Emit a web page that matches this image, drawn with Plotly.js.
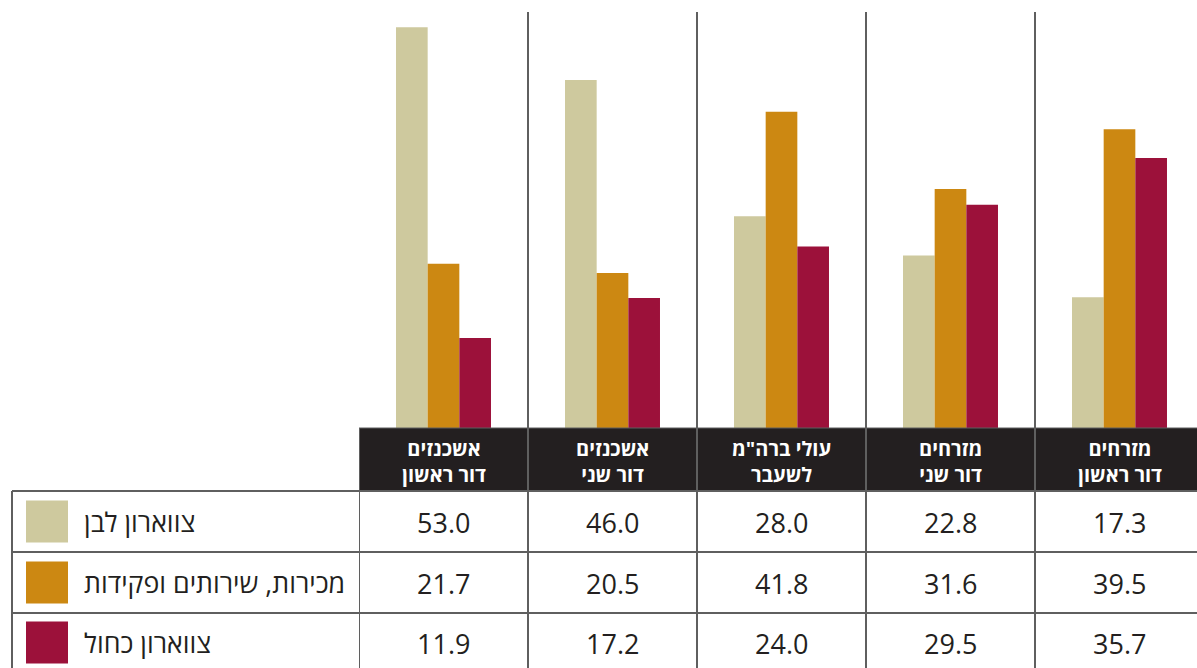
<!DOCTYPE html>
<html>
<head>
<meta charset="utf-8">
<script src="https://cdn.plot.ly/plotly-3.0.1.min.js"></script>
<style>
html,body{margin:0;padding:0;background:#fff;}
#chart{width:1197px;height:668px;}
</style>
</head>
<body>
<div id="chart"></div>
<script>
// Categories (left to right as displayed), two header lines each
const catLine1 = ['אשכנזים', 'אשכנזים', 'עולי ברה"מ', 'מזרחים', 'מזרחים'];
const catLine2 = ['דור ראשון', 'דור שני', 'לשעבר', 'דור שני', 'דור ראשון'];

// Series names
const seriesNames = ['צווארון לבן', 'מכירות, שירותים ופקידות', 'צווארון כחול'];

// Series values (same order as categories)
const whiteCollar = [53.0, 46.0, 28.0, 22.8, 17.3];
const salesServices = [21.7, 20.5, 41.8, 31.6, 39.5];
const blueCollar = [11.9, 17.2, 24.0, 29.5, 35.7];

const seriesValues = [whiteCollar, salesServices, blueCollar];
const colors = ['#cec99e', '#cc8812', '#9c113a'];

const W = 1197, H = 668;
const py = p => 1 - p / H;          // pixel y -> paper
const px = p => p / W;              // pixel x -> paper
const FONT = '"Open Sans", "DejaVu Sans", sans-serif';
const xs = catLine1.map((_, i) => i);

const traces = seriesValues.map((vals, k) => ({
  type: 'bar',
  x: xs,
  y: vals,
  name: seriesNames[k],
  marker: {color: colors[k], line: {width: 0}},
  hoverinfo: 'skip',
  showlegend: false
}));

const shapes = [];
const annotations = [];
const gridColor = '#5f5f5f';
const n = xs.length;

// header band
shapes.push({type: 'rect', xref: 'x', yref: 'paper', x0: -0.5, x1: n, y0: py(491), y1: py(428),
  fillcolor: '#231f20', line: {width: 0}, layer: 'below'});

// column separators (plot + header + table)
for (let i = 0; i < n - 1; i++) {
  shapes.push({type: 'line', xref: 'x', yref: 'paper', x0: i + 0.5, x1: i + 0.5, y0: py(12), y1: 0,
    line: {color: gridColor, width: 2}});
}
// left edge of data columns
shapes.push({type: 'line', xref: 'x', yref: 'paper', x0: -0.5, x1: -0.5, y0: py(428), y1: 0,
  line: {color: gridColor, width: 2}});
// left edge of legend column
shapes.push({type: 'line', xref: 'paper', yref: 'paper', x0: px(12), x1: px(12), y0: py(491), y1: 0,
  line: {color: gridColor, width: 2}});
// header top
shapes.push({type: 'line', xref: 'x', yref: 'paper', x0: -0.5, x1: n, y0: py(428), y1: py(428),
  line: {color: gridColor, width: 1}});
// horizontal row lines
[491, 552, 613].forEach(yy => {
  shapes.push({type: 'line', xref: 'paper', yref: 'paper', x0: px(12), x1: 1, y0: py(yy), y1: py(yy),
    line: {color: gridColor, width: 2}});
});

// header texts
for (let i = 0; i < n; i++) {
  annotations.push({xref: 'x', yref: 'paper', x: i, y: py(461), text: catLine1[i] + '<br>' + catLine2[i],
    showarrow: false, xanchor: 'center', yanchor: 'middle', align: 'center',
    font: {family: FONT, size: 20, color: '#ffffff', weight: 'bold'}});
}

// table rows
const rowCenters = [521.5, 582.5, 642.5];
seriesValues.forEach((vals, k) => {
  const yc = rowCenters[k];
  shapes.push({type: 'rect', xref: 'paper', yref: 'paper', x0: px(26), x1: px(68), y0: py(yc + 21), y1: py(yc - 21),
    fillcolor: colors[k], line: {width: 0}});
  annotations.push({xref: 'paper', yref: 'paper', x: px(82), y: py(yc), text: seriesNames[k], showarrow: false,
    xanchor: 'left', yanchor: 'middle', font: {family: FONT, size: 26.7, color: '#231f20'}});
  vals.forEach((v, i) => {
    annotations.push({xref: 'x', yref: 'paper', x: i, y: py(yc + 1), text: v.toFixed(1), showarrow: false,
      xanchor: 'center', yanchor: 'middle', font: {family: FONT, size: 27, color: '#231f20'}});
  });
});

const layout = {
  width: W, height: H,
  margin: {l: 0, r: 0, t: 0, b: 0, pad: 0},
  paper_bgcolor: '#ffffff', plot_bgcolor: 'rgba(0,0,0,0)',
  barmode: 'group', bargap: 0.438, bargroupgap: 0,
  showlegend: false,
  xaxis: {domain: [359 / W, 1], range: [-0.5, -0.5 + (W - 359) / 169], visible: false, fixedrange: true},
  yaxis: {domain: [py(428), py(12)], range: [0, 55], visible: false, fixedrange: true},
  shapes: shapes,
  annotations: annotations
};

Plotly.newPlot('chart', traces, layout, {displayModeBar: false, staticPlot: true});
</script>
</body>
</html>
